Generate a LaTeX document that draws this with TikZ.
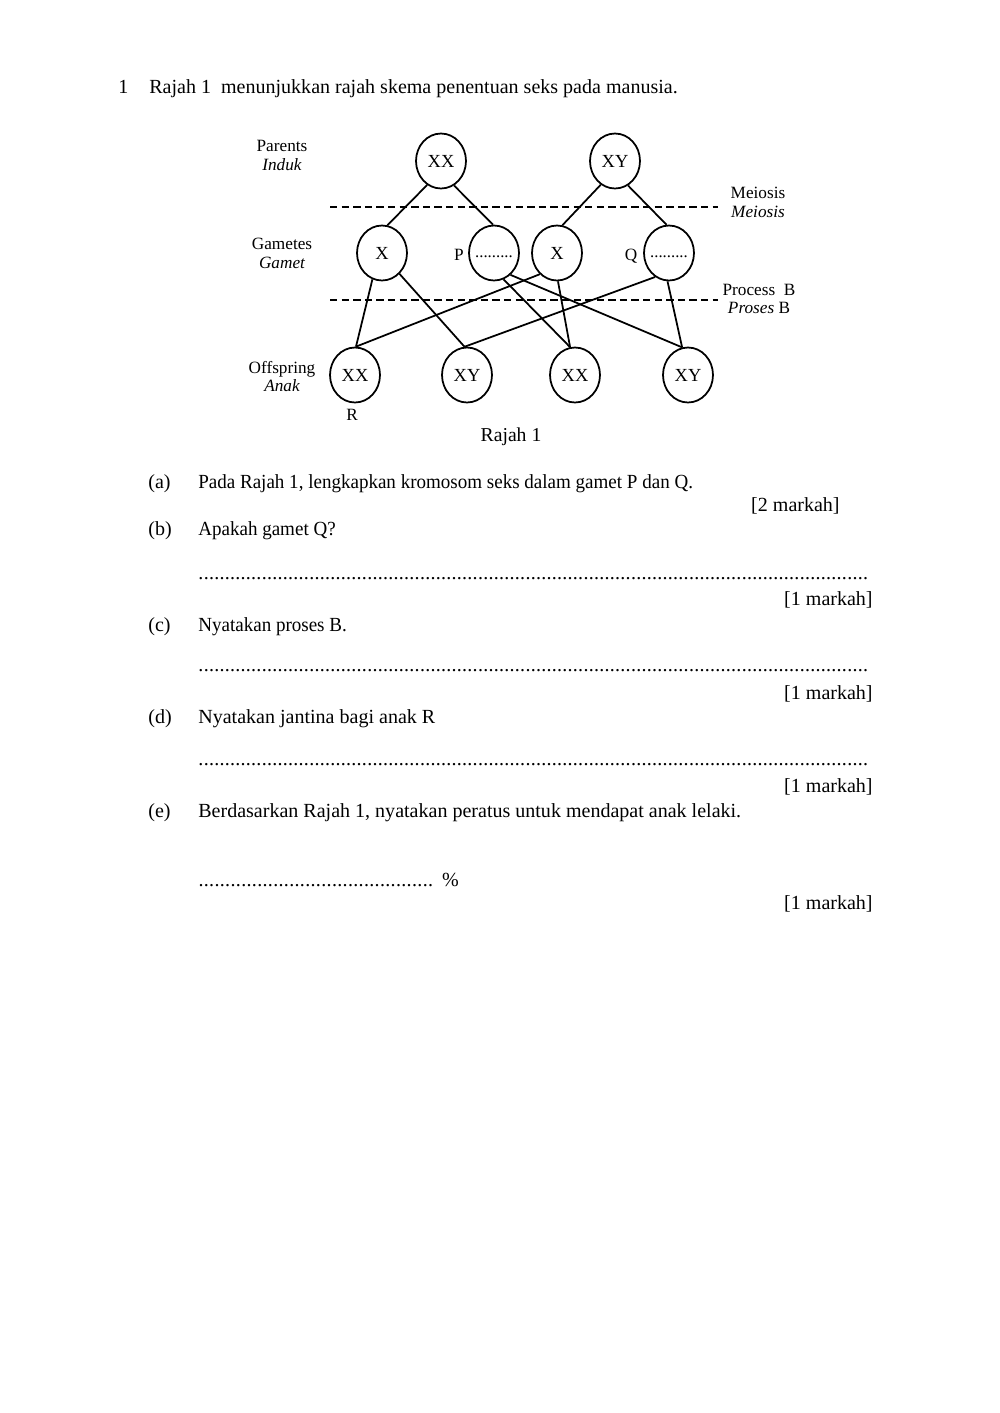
\documentclass[tikz,border=0pt]{standalone}
\usepackage{fontspec}
\setmainfont{Liberation Serif}
\usetikzlibrary{shapes.geometric}
\newcommand{\dotrow}[1]{\hbox to #1{\xleaders\hbox to 3pt{\hss.\hss}\hfill}}
\newcommand{\narrow}[1]{\scalebox{0.95}[1]{#1}}
\tikzset{
  body/.style={inner sep=0pt, font=\fontsize{11.4}{13}\selectfont},
  lbl/.style={inner sep=0pt, anchor=base, font=\fontsize{9.8}{11}\selectfont},
  cell/.style={draw, ellipse, line width=1pt, minimum width=1cm, minimum height=1.1cm, inner sep=0pt, font=\fontsize{10.5}{12}\selectfont},
  blank/.style={lbl, font=\fontsize{9.5}{11}\selectfont},
  link/.style={line width=1pt},
  cut/.style={line width=1pt, dash pattern=on 4.2pt off 2.4pt}
}
\begin{document}
\begin{tikzpicture}[x=0.02cm,y=-0.02cm]
\useasboundingbox[fill=white] (0,0) rectangle (1000,1413);
% heading
\node[body, anchor=base west] (num) at (118,93) {1};
\node[body, anchor=base west] (intro) at (149,93) {Rajah 1\ \ menunjukkan rajah skema penentuan seks pada manusia.};
% row labels
\node[lbl] (par1) at (282,151) {Parents};
\node[lbl] (par2) at (282,170) {\itshape Induk};
\node[lbl] (gam1) at (282,249) {Gametes};
\node[lbl] (gam2) at (282,268) {\itshape Gamet};
\node[lbl] (off1) at (282,373) {Offspring};
\node[lbl] (off2) at (282,391) {\itshape Anak};
\node[lbl] (mei1) at (758,198) {Meiosis};
\node[lbl] (mei2) at (758,217) {\itshape Meiosis};
\node[lbl] (pro1) at (759,295) {Process\ \ B};
\node[lbl] (pro2) at (759,313) {\itshape Proses\/\upshape\ B};
% dashed lines
\coordinate (m1) at (330,207); \coordinate (m2) at (718,207);
\coordinate (b1) at (330,300); \coordinate (b2) at (718,300);
\draw[cut] (m1) -- (m2);
\draw[cut] (b1) -- (b2);
% circles
\node[cell] (XXp) at (441,161) {XX};
\node[cell] (XYp) at (615,161) {XY};
\node[cell] (X1) at (382,253) {X};
\node[cell] (P) at (494,253) {};
\node[cell] (X2) at (557,253) {X};
\node[cell] (Q) at (669,253) {};
\node[cell] (O1) at (355,375) {XX};
\node[cell] (O2) at (467,375) {XY};
\node[cell] (O3) at (575,375) {XX};
\node[cell] (O4) at (688,375) {XY};
\node[blank] (Pdots) at (494,257) {.........};
\node[blank] (Qdots) at (669,257) {.........};
\node[lbl] (Plbl) at (459,260) {P};
\node[lbl] (Qlbl) at (631,260) {Q};
\node[lbl] (Rlbl) at (352,420) {R};
\node[lbl, font=\fontsize{11.2}{13}\selectfont] (cap) at (511,441) {Rajah 1};
% connectors
\draw[link] (XXp.-120) -- (X1.79);
\draw[link] (XXp.-62) -- (P.92);
\draw[link] (XYp.-121) -- (X2.79);
\draw[link] (XYp.-62) -- (Q.95);
\draw[link] (X1.-110) -- (O1.88);
\draw[link] (X1.-50) -- (O2.95);
\draw[link] (P.-70) -- (O3.100);
\draw[link] (P.-53) -- (O4.102);
\draw[link] (X2.-129) -- (O1.88);
\draw[link] (X2.-88) -- (O3.100);
\draw[link] (Q.-120) -- (O2.95);
\draw[link] (Q.-93) -- (O4.102);
% questions
\node[body, anchor=base west] (qa) at (148,488) {(a)};
\node[body, anchor=base west] (ta) at (198,488) {\narrow{Pada Rajah 1, lengkapkan kromosom seks dalam gamet P dan Q.}};
\node[body, anchor=base east] (ma) at (840,511) {[2 markah]};
\node[body, anchor=base west] (qb) at (148,535) {(b)};
\node[body, anchor=base west] (tb) at (198,535) {\narrow{Apakah gamet Q?}};
\node[body, anchor=base west] (db) at (198,579) {\dotrow{13.4cm}};
\node[body, anchor=base east] (mb) at (873,605) {[1 markah]};
\node[body, anchor=base west] (qc) at (148,631) {(c)};
\node[body, anchor=base west] (tc) at (198,631) {\narrow{Nyatakan proses B.}};
\node[body, anchor=base west] (dc) at (198,671) {\dotrow{13.4cm}};
\node[body, anchor=base east] (mc) at (873,699) {[1 markah]};
\node[body, anchor=base west] (qd) at (148,723) {(d)};
\node[body, anchor=base west] (td) at (198,723) {Nyatakan jantina bagi anak R};
\node[body, anchor=base west] (dd) at (198,765) {\dotrow{13.4cm}};
\node[body, anchor=base east] (md) at (873,792) {[1 markah]};
\node[body, anchor=base west] (qe) at (148,817) {(e)};
\node[body, anchor=base west] (te) at (198,817) {Berdasarkan Rajah 1, nyatakan peratus untuk mendapat anak lelaki.};
\node[body, anchor=base west] (de) at (198,886) {\dotrow{4.7cm}\hspace{5pt}\%};
\node[body, anchor=base east] (me) at (873,909) {[1 markah]};
\end{tikzpicture}
\end{document}
